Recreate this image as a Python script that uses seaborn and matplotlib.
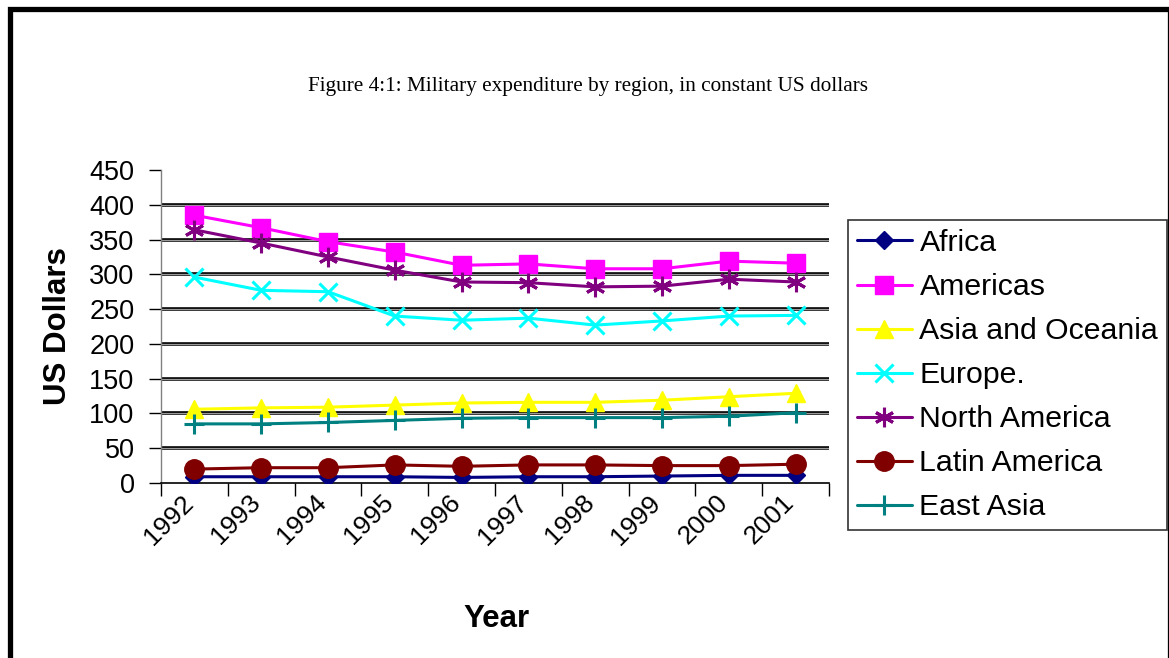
import matplotlib
matplotlib.use("Agg")
import matplotlib.pyplot as plt
import matplotlib.transforms as mtransforms
from matplotlib.patches import Rectangle
from matplotlib.ticker import FixedLocator
import seaborn as sns
import pandas as pd

# ---- data (constant US dollars, billions) ----
years = ["1992", "1993", "1994", "1995", "1996", "1997", "1998", "1999", "2000", "2001"]
africa = [9, 9, 9, 9, 8, 9, 9, 10, 11, 11]
americas = [385, 367, 347, 332, 313, 315, 308, 308, 319, 316]
asia_oceania = [106, 108, 109, 112, 115, 116, 116, 119, 124, 129]
europe = [296, 277, 275, 240, 234, 237, 227, 233, 240, 241]
north_america = [364, 345, 325, 306, 289, 288, 282, 283, 293, 289]
latin_america = [20, 22, 22, 26, 24, 26, 26, 25, 25, 27]
east_asia = [85, 85, 87, 90, 93, 94, 94, 94, 96, 101]

series_names = ["Africa", "Americas", "Asia and Oceania", "Europe.",
                "North America", "Latin America", "East Asia"]
series_values = [africa, americas, asia_oceania, europe,
                 north_america, latin_america, east_asia]
y_ticks = [0, 50, 100, 150, 200, 250, 300, 350, 400, 450]

# ---- styles ----
colors = ["#000080", "#FF00FF", "#FFFF00", "#00FFFF", "#800080", "#800000", "#008080"]
markers = ["D", "s", "^", "x", (6, 2, 0), "o", "+"]
msizes = [9, 13, 13, 13, 14, 14, 15]
mews = [1, 1, 1, 2.2, 2.2, 1, 2.2]

sns.set_theme(style="white")
plt.rcParams["font.family"] = ["Liberation Sans", "DejaVu Sans"]
plt.rcParams["text.color"] = "black"
plt.rcParams["axes.labelcolor"] = "black"
plt.rcParams["xtick.color"] = "black"
plt.rcParams["ytick.color"] = "black"

fig = plt.figure(figsize=(11.69, 6.58), dpi=100)
ax = fig.add_axes([161 / 1169, 1 - 483 / 658, (829 - 161) / 1169, (483 - 170) / 658])

rows = []
for name, vals in zip(series_names, series_values):
    for i, (yr, v) in enumerate(zip(years, vals)):
        rows.append({"region": name, "pos": i, "year": yr, "value": v})
df = pd.DataFrame(rows)

handles = []
for name, c, m, ms, mew in zip(series_names, colors, markers, msizes, mews):
    sub = df[df["region"] == name]
    sns.lineplot(data=sub, x="pos", y="value", ax=ax, color=c, marker=m,
                 markersize=ms, markeredgewidth=mew, markeredgecolor=c,
                 linewidth=2.2, label=name, legend=False, zorder=3)
    handles.append(ax.lines[-1])

# ---- axes ----
ax.set_xlim(-0.5, len(years) - 0.5)
ax.set_ylim(0, 450)
ax.set_xlabel("Year", fontsize=22.5, fontweight="bold")
ax.set_ylabel("US Dollars", fontsize=22.5, fontweight="bold")
ax.xaxis.set_label_coords(0.5015, -0.435)
ax.yaxis.set_label_coords(-0.154, 0.5)
ax.xaxis.label.set_va("center")
ax.yaxis.label.set_va("center")

ax.set_yticks(y_ticks)
ax.set_yticklabels([str(t) for t in y_ticks], fontsize=19.5)
ax.tick_params(axis="y", which="major", direction="out", length=9, width=1,
               color="black", left=True, pad=10)

# category boundaries as major ticks, labels at category centres
ax.xaxis.set_major_locator(FixedLocator([i - 0.5 for i in range(len(years) + 1)]))
ax.xaxis.set_minor_locator(FixedLocator(list(range(len(years)))))
ax.set_xticklabels([""] * (len(years) + 1))
ax.set_xticks(list(range(len(years))), minor=True)
ax.set_xticklabels(years, minor=True, fontsize=19, rotation=45, ha="right",
                   va="center", rotation_mode="anchor")
ax.tick_params(axis="x", which="major", direction="out", length=9, width=1,
               color="black", bottom=True)
ax.tick_params(axis="x", which="minor", length=0, pad=0)
shift = mtransforms.ScaledTranslation(-0.05, -0.16, fig.dpi_scale_trans)
for lab in ax.get_xticklabels(minor=True):
    lab.set_transform(lab.get_transform() + shift)

for side in ["top", "right"]:
    ax.spines[side].set_visible(False)
ax.spines["left"].set_color("#808080")
ax.spines["left"].set_linewidth(1)
ax.spines["bottom"].set_color("black")
ax.spines["bottom"].set_linewidth(1.2)

# double-ruled horizontal gridlines
for t in y_ticks[1:-1]:
    ax.axhline(t, color="black", linewidth=2.6, zorder=1)
    ax.axhline(t, color="#9a9a9a", linewidth=0.9, zorder=1.1)

# ---- legend ----
leg = fig.legend(handles=handles, labels=series_names, loc="upper left",
                 bbox_to_anchor=(848 / 1169, 1 - 220 / 658),
                 bbox_transform=fig.transFigure, fontsize=21.8,
                 frameon=True, fancybox=False, edgecolor="black",
                 handlelength=1.8, handletextpad=0.26, labelspacing=0.53,
                 borderpad=0.3, borderaxespad=0)
leg.get_frame().set_linewidth(1.2)

# ---- title ----
fig.text(587.5 / 1169, 1 - 87 / 658,
         "Figure 4:1: Military expenditure by region, in constant US dollars",
         ha="center", va="center", fontsize=15.3, family="Liberation Serif")

# ---- frame around the figure ----
fig.patches.append(Rectangle((9.5 / 1169, -0.05), (1170 - 9.5) / 1169, 1.05 - 9.5 / 658,
                             transform=fig.transFigure, fill=False,
                             edgecolor="black", linewidth=3.8, clip_on=False))

fig.savefig("out.png", dpi=100)
